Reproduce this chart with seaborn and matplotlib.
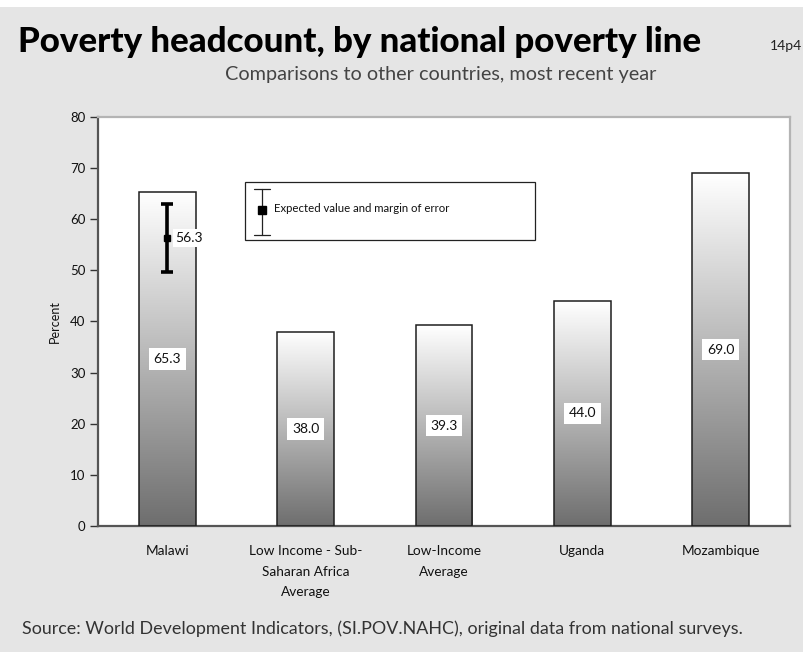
import numpy as np
import pandas as pd
import matplotlib
matplotlib.use("Agg")
import matplotlib.pyplot as plt
from matplotlib.colors import LinearSegmentedColormap
from matplotlib.patches import Rectangle
import seaborn as sns

# Poverty headcount ratio at national poverty line (% of population)
categories = ["Malawi", "Low Income - Sub-\nSaharan Africa\nAverage",
              "Low-Income\nAverage", "Uganda", "Mozambique"]
values = [65.3, 38.0, 39.3, 44.0, 69.0]

# Malawi survey estimate with its margin of error
expected_value = 56.3
margin_of_error = 6.6

y_ticks = [0, 10, 20, 30, 40, 50, 60, 70, 80]

sns.set_theme(style="white")
plt.rcParams["font.family"] = ["Lato", "DejaVu Sans"]

BG = "#e5e5e5"
fig = plt.figure(figsize=(8.04, 6.52), dpi=100, facecolor=BG)
ax = fig.add_axes([0.1219, 0.1933, 0.8607, 0.6273])
ax.set_facecolor("white")

df = pd.DataFrame({"category": categories, "value": values})
sns.barplot(data=df, x="category", y="value", width=0.41, color="white",
            edgecolor="#1e1e1e", linewidth=1.1, ax=ax, zorder=3)

# vertical white-to-grey gradient inside every bar
cmap = LinearSegmentedColormap.from_list("bar_grad", ["#ffffff", "#6e6e6e"])
grad = np.linspace(0, 1, 256).reshape(-1, 1)
for patch in ax.patches:
    x0, y0 = patch.get_x(), patch.get_y()
    w, h = patch.get_width(), patch.get_height()
    img = ax.imshow(grad, extent=[x0, x0 + w, y0, y0 + h], origin="upper",
                    aspect="auto", cmap=cmap, zorder=2, interpolation="bicubic")
    img.set_clip_path(patch)
    patch.set_facecolor("none")

ax.set_xlim(-0.5, len(categories) - 0.5)
ax.set_ylim(0, 80)

# value labels at half the bar height
for i, v in enumerate(values):
    ax.text(i, v / 2, f"{v:.1f}", ha="center", va="center", fontsize=10,
            color="#111111", zorder=6,
            bbox=dict(boxstyle="square,pad=0.35", fc="white", ec="none"))

# Malawi expected value with margin of error
ax.errorbar([0], [expected_value], yerr=[margin_of_error], fmt="s",
            color="black", ms=5, elinewidth=2.6, capsize=4, capthick=2.6,
            zorder=7, solid_capstyle="round")
ax.text(0.06, expected_value, f"{expected_value:.1f}", ha="left", va="center",
        fontsize=10, color="#111111", zorder=6,
        bbox=dict(boxstyle="square,pad=0.2", fc="white", ec="none"))

# legend box for the error bar
ax.add_patch(Rectangle((0.212, 0.699), 0.42, 0.142, transform=ax.transAxes,
                       fc="white", ec="#222222", lw=0.9, zorder=8))
lx = 0.237
ax.plot([lx, lx], [0.711, 0.824], transform=ax.transAxes, color="#222222",
        lw=0.9, zorder=9)
for yy in (0.711, 0.824):
    ax.plot([lx - 0.012, lx + 0.012], [yy, yy], transform=ax.transAxes,
            color="#222222", lw=0.9, zorder=9)
ax.plot([lx], [0.772], marker="s", ms=6, color="black",
        transform=ax.transAxes, zorder=10)
ax.text(0.254, 0.775, "Expected value and margin of error",
        transform=ax.transAxes, fontsize=8.2, va="center", ha="left",
        color="#111111", zorder=10)

# axes styling
ax.set_yticks(y_ticks)
ax.set_yticklabels([str(t) for t in y_ticks])
ax.set_xticks(np.arange(-0.5, len(categories)), labels=[""] * (len(categories) + 1))
ax.set_xticks(np.arange(len(categories)), labels=categories, minor=True)
ax.tick_params(axis="x", which="major", direction="out", length=6, width=0.8,
               color="#333333")
ax.tick_params(axis="x", which="minor", length=0, pad=14, labelsize=9.8,
               labelcolor="#111111")
ax.tick_params(axis="y", direction="out", length=6, width=1, color="#333333",
               labelsize=9.5, labelcolor="#111111", pad=3, left=True)
for lbl in ax.get_xticklabels(minor=True):
    lbl.set_linespacing(1.85)
    lbl.set_va("top")
ax.set_xlabel("")
ax.set_ylabel("Percent", fontsize=9, color="#111111", labelpad=7)

for side in ("left", "bottom"):
    ax.spines[side].set_color("#555555")
    ax.spines[side].set_linewidth(1.6)
for side in ("top", "right"):
    ax.spines[side].set_color("#b4b4b4")
    ax.spines[side].set_linewidth(1.6)

# page decoration and texts
fig.patches.append(Rectangle((0, 1 - 7 / 652), 1, 7 / 652, transform=fig.transFigure,
                             fc="white", ec="none", zorder=0))
fig.text(0.022, 0.921, "Poverty headcount, by national poverty line",
         fontsize=25.1, fontweight=900, color="black", va="baseline", ha="left")
fig.text(0.958, 0.923, "14p4", fontsize=10, color="#222222", va="baseline", ha="left")
fig.text(0.548, 0.877, "Comparisons to other countries, most recent year",
         fontsize=14.3, color="#444444", va="baseline", ha="center")
fig.text(0.027, 0.028, "Source: World Development Indicators, (SI.POV.NAHC), "
         "original data from national surveys.", fontsize=12.9, color="#333333",
         va="baseline", ha="left")

fig.savefig("out.png", dpi=100, facecolor=BG)
